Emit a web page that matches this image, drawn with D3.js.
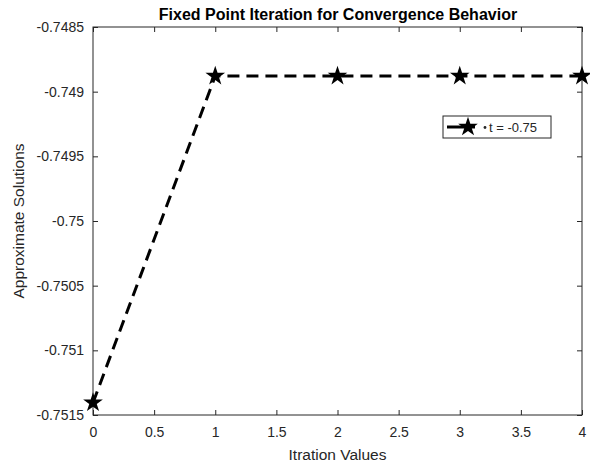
<!DOCTYPE html>
<html><head><meta charset="utf-8">
<script src="https://cdn.jsdelivr.net/npm/d3@7"></script>
<style>body{margin:0;background:#fff;}svg{display:block;font-family:"Liberation Sans",Arial,sans-serif;}</style>
</head><body><svg id="c" width="590" height="464"></svg>
<script>
const iterations = [0, 1, 2, 3, 4];
const solutions = [-0.751405, -0.748879, -0.748879, -0.748879, -0.748879];
const xTicks = [0, 0.5, 1, 1.5, 2, 2.5, 3, 3.5, 4];
const yTicks = [-0.7515, -0.751, -0.7505, -0.75, -0.7495, -0.749, -0.7485];
const seriesName = "t = -0.75";

const svg = d3.select("#c");
const L = 93, R = 582, T = 27, B = 415;
const x = d3.scaleLinear().domain([0, 4]).range([L, R]);
const y = d3.scaleLinear().domain([-0.7515, -0.7485]).range([B, T]);
const axCol = "#262626";

svg.append("rect").attr("x", L).attr("y", T).attr("width", R - L).attr("height", B - T)
  .attr("fill", "#fff").attr("stroke", axCol).attr("stroke-width", 1);

const fmt = d => String(d);
const xb = svg.append("g").attr("transform", `translate(0,${B})`)
  .call(d3.axisBottom(x).tickValues(xTicks).tickSizeInner(-5).tickSizeOuter(0).tickPadding(12).tickFormat(fmt));
const xt = svg.append("g").attr("transform", `translate(0,${T})`)
  .call(d3.axisTop(x).tickValues(xTicks).tickSizeInner(-5).tickSizeOuter(0).tickFormat(""));
const yl = svg.append("g").attr("transform", `translate(${L},0)`)
  .call(d3.axisLeft(y).tickValues(yTicks).tickSizeInner(-5).tickSizeOuter(0).tickPadding(9).tickFormat(fmt));
const yr = svg.append("g").attr("transform", `translate(${R},0)`)
  .call(d3.axisRight(y).tickValues(yTicks).tickSizeInner(-5).tickSizeOuter(0).tickFormat(""));
[xb, xt, yl, yr].forEach(g => {
  g.select(".domain").remove();
  g.selectAll("line").attr("stroke", axCol);
  g.selectAll("text").attr("fill", axCol).style("font-size", "14px").style("font-family", "Liberation Sans, Arial, sans-serif");
});

const line = d3.line().x((d, i) => x(iterations[i])).y(d => y(d));
svg.append("path").datum(solutions).attr("d", line)
  .attr("fill", "none").attr("stroke", "#000").attr("stroke-width", 3)
  .attr("stroke-dasharray", "12,7");

const star = d3.symbol().type(d3.symbolStar).size(120);
svg.append("g").selectAll("path").data(solutions).join("path")
  .attr("transform", (d, i) => `translate(${x(iterations[i])},${y(d)})`)
  .attr("d", star).attr("fill", "#000");

svg.append("text").attr("x", (L + R) / 2 + 0.5).attr("y", 20).attr("text-anchor", "middle")
  .style("font-size", "16px").style("font-weight", "bold").attr("fill", "#000")
  .text("Fixed Point Iteration for Convergence Behavior");
svg.append("text").attr("x", (L + R) / 2).attr("y", 460).attr("text-anchor", "middle")
  .style("font-size", "15.5px").attr("fill", axCol).text("Itration Values");
svg.append("text").attr("transform", `translate(24,${(T + B) / 2}) rotate(-90)`).attr("text-anchor", "middle")
  .style("font-size", "15.5px").attr("fill", axCol).text("Approximate Solutions");

// legend
const lg = svg.append("g").attr("transform", "translate(443,116)");
lg.append("rect").attr("width", 108).attr("height", 22).attr("fill", "#fff").attr("stroke", axCol).attr("stroke-width", 1);
lg.append("line").attr("x1", 4).attr("x2", 32).attr("y1", 11).attr("y2", 11).attr("stroke", "#000").attr("stroke-width", 3);
lg.append("path").attr("transform", "translate(25,11)").attr("d", star).attr("fill", "#000");
lg.append("circle").attr("cx", 42).attr("cy", 11.5).attr("r", 1.4).attr("fill", axCol);
lg.append("text").attr("x", 46).attr("y", 16).style("font-size", "13px").attr("fill", axCol).text(seriesName);
</script></body></html>
